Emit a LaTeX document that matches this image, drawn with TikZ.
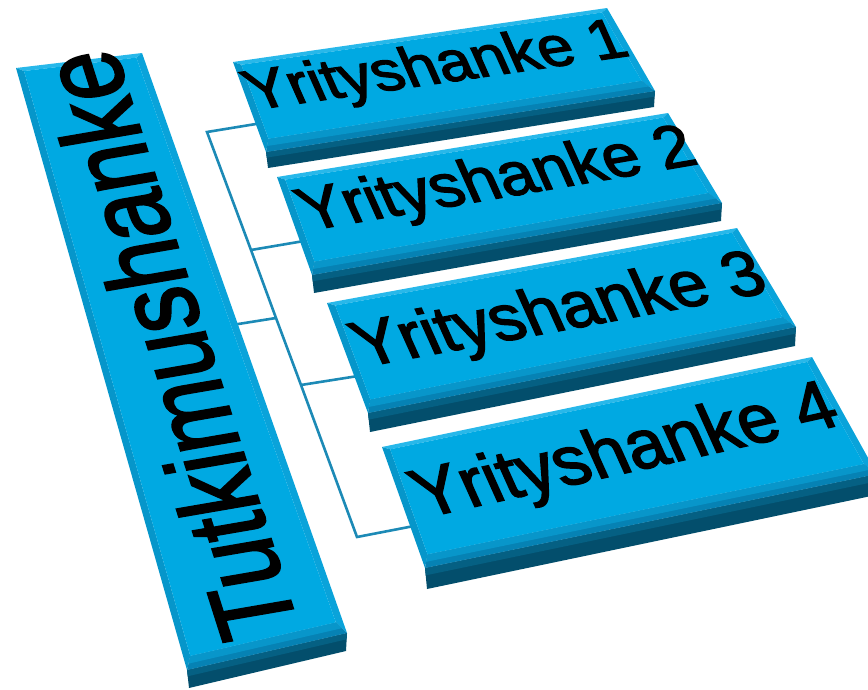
\documentclass[tikz,border=0pt]{standalone}
\usepackage{fontspec}
\setmainfont{Liberation Sans}
\newfontfamily\heavysans[FakeBold=2.2]{Liberation Sans}
\usetikzlibrary{calc}

\definecolor{facecol}{RGB}{0,169,226}
\definecolor{bevtop}{RGB}{40,184,234}
\definecolor{bevleft}{RGB}{6,150,202}
\definecolor{bevright}{RGB}{10,163,218}
\definecolor{bevbotA}{RGB}{8,150,202}
\definecolor{bevbotB}{RGB}{6,130,180}
\definecolor{sideA}{RGB}{5,96,131}
\definecolor{sideB}{RGB}{3,78,108}
\definecolor{linkcol}{RGB}{28,138,182}

\tikzset{
  link/.style={draw=linkcol, line width=2.6pt, line join=miter},
  lbl/.style={inner sep=0pt, outer sep=0pt, text=black, transform shape, anchor=base west},
}

% A bevelled slab: #1 name, #2..#5 corners of the top face (TL, TR, BR, BL), #6 front thickness
\newcommand\drawslab[6]{%
  \coordinate (#1-a) at #2;
  \coordinate (#1-b) at #3;
  \coordinate (#1-c) at #4;
  \coordinate (#1-d) at #5;
  \coordinate (#1-ia) at ($(#1-a)!7pt!(#1-b) + (#1-a)!4pt!(#1-d) - (#1-a)$);
  \coordinate (#1-ib) at ($(#1-b)!7pt!(#1-a) + (#1-b)!4pt!(#1-c) - (#1-b)$);
  \coordinate (#1-ic) at ($(#1-c)!7pt!(#1-d) + (#1-c)!13pt!(#1-b) - (#1-c)$);
  \coordinate (#1-id) at ($(#1-d)!7pt!(#1-c) + (#1-d)!13pt!(#1-a) - (#1-d)$);
  \coordinate (#1-mc) at ($(#1-c)!0.45!(#1-ic)$);
  \coordinate (#1-md) at ($(#1-d)!0.45!(#1-id)$);
  \coordinate (#1-fc) at ($(#1-c)+(-1,#6)$);
  \coordinate (#1-fd) at ($(#1-d)+(2,#6)$);
  \coordinate (#1-hc) at ($(#1-c)!0.35!(#1-fc)$);
  \coordinate (#1-hd) at ($(#1-d)!0.35!(#1-fd)$);
  % front face
  \fill[sideB] (#1-d) -- (#1-c) -- (#1-fc) -- (#1-fd) -- cycle;
  \fill[sideA] (#1-d) -- (#1-c) -- (#1-hc) -- (#1-hd) -- cycle;
  % bevels
  \fill[bevtop] (#1-a) -- (#1-b) -- (#1-ib) -- (#1-ia) -- cycle;
  \fill[bevright] (#1-b) -- (#1-c) -- (#1-ic) -- (#1-ib) -- cycle;
  \fill[bevleft] (#1-d) -- (#1-a) -- (#1-ia) -- (#1-id) -- cycle;
  \fill[bevbotB] (#1-c) -- (#1-d) -- (#1-id) -- (#1-ic) -- cycle;
  \fill[bevbotA] (#1-mc) -- (#1-md) -- (#1-id) -- (#1-ic) -- cycle;
  % top face
  \fill[facecol] (#1-ia) -- (#1-ib) -- (#1-ic) -- (#1-id) -- cycle;
}

\begin{document}
\begin{tikzpicture}[x=1pt, y=-1pt]
  \useasboundingbox (0,0) rectangle (868,689);

  % connector frame
  \coordinate (t1) at (207,132);
  \coordinate (t2) at (251,250);
  \coordinate (tm) at (276,318);
  \coordinate (t3) at (301,385);
  \coordinate (t4) at (357,537);
  \coordinate (barjoin) at (232,325);
  \coordinate (j1) at (262,123);
  \coordinate (j2) at (304,241);
  \coordinate (j3) at (358,376);
  \coordinate (j4) at (414,526);
  \draw[link] (j1) -- (t1) -- (t2) -- (tm) -- (t3) -- (t4) -- (j4);
  \draw[link] (t2) -- (j2);
  \draw[link] (t3) -- (j3);
  \draw[link] (barjoin) -- (tm);

  % slabs
  \drawslab{bar}{(16,68)}{(142,53)}{(347,633)}{(187,670)}{18}
  \drawslab{box1}{(233,62)}{(607,8)}{(655,91)}{(266,152)}{16}
  \drawslab{box2}{(277,177)}{(668,113)}{(722,203)}{(312,275)}{18}
  \drawslab{box3}{(327,303)}{(737,228)}{(796,327)}{(368,413)}{19}
  \drawslab{box4}{(382,447)}{(812,357)}{(877,474)}{(425,568)}{21}

  % labels
  \begin{scope}[cm={-0.276,0.867,-1.103,-0.19,(300,631)}]
    \node[lbl, font=\heavysans\fontsize{100}{100}\selectfont] (main) at (0,0) {Tutkimushanke};
  \end{scope}
  \begin{scope}[cm={0.990,0.143,-0.383,0.86,(254,110)}]
    \node[lbl, font=\heavysans\fontsize{63}{63}\selectfont] (y1) at (0,0) {Yrityshanke 1};
  \end{scope}
  \begin{scope}[cm={0.986,0.169,-0.396,0.88,(308.5,230.7)}]
    \node[lbl, font=\heavysans\fontsize{65.6}{66}\selectfont] (y2) at (0,0) {Yrityshanke 2};
  \end{scope}
  \begin{scope}[cm={0.983,0.182,-0.405,0.90,(363.6,367.1)}]
    \node[lbl, font=\heavysans\fontsize{68.4}{69}\selectfont] (y3) at (0,0) {Yrityshanke 3};
  \end{scope}
  \begin{scope}[cm={0.976,0.218,-0.414,0.92,(424,518)}]
    \node[lbl, font=\heavysans\fontsize{70.9}{71}\selectfont] (y4) at (0,0) {Yrityshanke 4};
  \end{scope}
\end{tikzpicture}
\end{document}
